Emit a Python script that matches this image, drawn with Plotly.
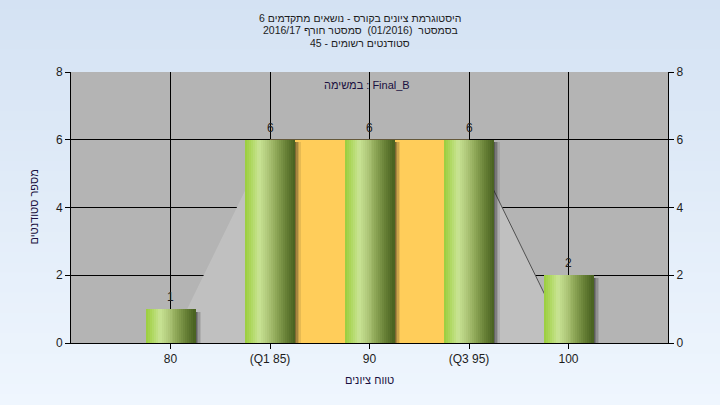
import plotly.graph_objects as go

# ---- data ----
categories = ["80", "(Q1 85)", "90", "(Q3 95)", "100"]
counts = [1, 6, 6, 6, 2]
polygon_x = [0, 1, 3, 4]          # frequency-shape polygon (category index)
polygon_y = [0, 6, 6, 0]
iqr_range = [1, 3]                # Q1..Q3 category index
iqr_height = 6
title_lines = [
    "היסטוגרמת ציונים בקורס - נושאים מתקדמים 6",
    "בסמסטר  (01/2016)  סמסטר חורף 2016/17",
    "סטודנטים רשומים - 45",
]
task_label = "במשימה : Final_B"
x_title = "טווח ציונים"
y_title = "מספר סטודנטים"
y_ticks = [0, 2, 4, 6, 8]

FONT = "Liberation Sans, Arial, DejaVu Sans, sans-serif"
TXT = "#1c1c1c"
xs = list(range(len(categories)))
L, R, T, B = 71, 52, 72, 62
PW, PH = 720 - L - R, 405 - T - B

fig = go.Figure()

# bar shadows
bw = 0.5
shadow = [0.55, 0.38, 0.22, 0.10]
for i, op in enumerate(shadow):
    fig.add_trace(go.Bar(
        x=xs, y=[c - 0.08 for c in counts], width=0.015,
        offset=bw / 2 + i * 0.015 - 0.003,
        marker=dict(color=f"rgba(20,20,20,{op})", line=dict(width=0)),
        hoverinfo="skip", showlegend=False))

# gradient bars made of vertical strips
stops = [(0.0, (0x9a, 0xcd, 0x3c)), (0.12, (0xae, 0xd7, 0x5e)),
         (0.28, (0xc9, 0xe4, 0x95)), (0.45, (0xb0, 0xc8, 0x7a)),
         (0.62, (0x8f, 0xa8, 0x58)), (0.82, (0x67, 0x80, 0x36)),
         (1.0, (0x48, 0x60, 0x1f))]

def grad(t):
    for (p0, c0), (p1, c1) in zip(stops[:-1], stops[1:]):
        if p0 <= t <= p1:
            f = (t - p0) / (p1 - p0)
            return "rgb(%d,%d,%d)" % tuple(round(a + (b - a) * f) for a, b in zip(c0, c1))
    return "rgb(72,96,31)"

n = 25
sw = bw / n
for k in range(n):
    fig.add_trace(go.Bar(
        x=xs, y=counts, width=sw * 1.08, offset=-bw / 2 + k * sw,
        marker=dict(color=grad((k + 0.5) / n), line=dict(width=0)),
        hoverinfo="skip", showlegend=False))

# invisible trace for right axis
fig.add_trace(go.Scatter(x=[xs[0]], y=[0], yaxis="y2", mode="markers",
                         marker=dict(opacity=0), hoverinfo="skip", showlegend=False))

# background gradient bands (paper), then plot bg
shapes = []
nb = 40
ytop, ybot = 1 + T / PH, -B / PH
top_c, bot_c = (0xd4, 0xe2, 0xf3), (0xef, 0xf6, 0xfe)
for i in range(nb):
    f = (i + 0.5) / nb
    col = "rgb(%d,%d,%d)" % tuple(round(a + (b - a) * f) for a, b in zip(top_c, bot_c))
    y1 = ytop + (ybot - ytop) * i / nb
    y0 = ytop + (ybot - ytop) * (i + 1) / nb
    shapes.append(dict(type="rect", xref="paper", yref="paper",
                       x0=-0.2, x1=1.2, y0=y0 - 0.003, y1=y1 + 0.003,
                       fillcolor=col, line=dict(width=0), layer="below"))
shapes.append(dict(type="rect", xref="paper", yref="paper", x0=0, x1=1, y0=0, y1=1,
                   fillcolor="#b4b4b4", line=dict(width=0), layer="below"))

# polygon, IQR block and slope line: above grid, below bars
poly_path = "M " + " L ".join(f"{x},{y}" for x, y in zip(polygon_x, polygon_y)) + " Z"
shapes.append(dict(type="path", xref="x", yref="y", path=poly_path,
                   fillcolor="#c0c0c0", line=dict(width=0), layer="between"))
shapes.append(dict(type="rect", xref="x", yref="y", x0=iqr_range[0], x1=iqr_range[1],
                   y0=0, y1=iqr_height, fillcolor="#ffcd5a", line=dict(width=0),
                   layer="between"))
shapes.append(dict(type="line", xref="x", yref="y", x0=polygon_x[2], y0=polygon_y[2],
                   x1=polygon_x[3], y1=polygon_y[3], line=dict(color="#505050", width=1),
                   layer="between"))

annotations = []
cx = (360 - L) / PW
for i, t in enumerate(title_lines):
    annotations.append(dict(text=t, xref="paper", yref="paper",
                            x=cx, y=1 + (T - (18 + 12.5 * i)) / PH,
                            xanchor="center", yanchor="middle", showarrow=False,
                            font=dict(family=FONT, size=10.5, color=TXT)))
annotations.append(dict(text=task_label, xref="paper", yref="paper",
                        x=(367 - L) / PW, y=1 - (85 - T) / PH,
                        xanchor="center", yanchor="middle", showarrow=False,
                        font=dict(family=FONT, size=11, color="#1a1040")))
annotations.append(dict(text=x_title, xref="paper", yref="paper",
                        x=(369 - L) / PW, y=-(380 - (T + PH)) / PH,
                        xanchor="center", yanchor="middle", showarrow=False,
                        font=dict(family=FONT, size=11, color="#1a1040")))
annotations.append(dict(text=y_title, xref="paper", yref="paper",
                        x=-(L - 33) / PW, y=0.5, textangle=-90,
                        xanchor="center", yanchor="middle", showarrow=False,
                        font=dict(family=FONT, size=11, color="#1a1040")))
for x, c in zip(xs, counts):
    annotations.append(dict(text=str(c), x=x, y=c, xref="x", yref="y",
                            yanchor="middle", yshift=12, showarrow=False,
                            font=dict(family=FONT, size=12, color=TXT)))

axis_common = dict(showline=True, linecolor="black", linewidth=1,
                   ticks="outside", ticklen=5, tickcolor="black",
                   zeroline=False, fixedrange=True, automargin=False)
fig.update_layout(
    width=720, height=405,
    margin=dict(l=L, r=R, t=T, b=B, autoexpand=False),
    paper_bgcolor="#e2ecf8", plot_bgcolor="rgba(0,0,0,0)",
    barmode="overlay", bargap=0,
    shapes=shapes, annotations=annotations,
    font=dict(family=FONT, size=12, color=TXT),
    xaxis=dict(range=[-1, 5], tickvals=xs, ticktext=categories,
               showgrid=True, gridcolor="black", gridwidth=1, **axis_common),
    yaxis=dict(range=[0, 8], tickvals=y_ticks,
               showgrid=True, gridcolor="black", gridwidth=1, **axis_common),
    yaxis2=dict(range=[0, 8], tickvals=y_ticks, overlaying="y", side="right",
                showgrid=False, **axis_common),
)

fig.write_html("out.html", config={"displayModeBar": False},
               post_script="document.body.style.margin='0';document.body.style.overflow='hidden';")
